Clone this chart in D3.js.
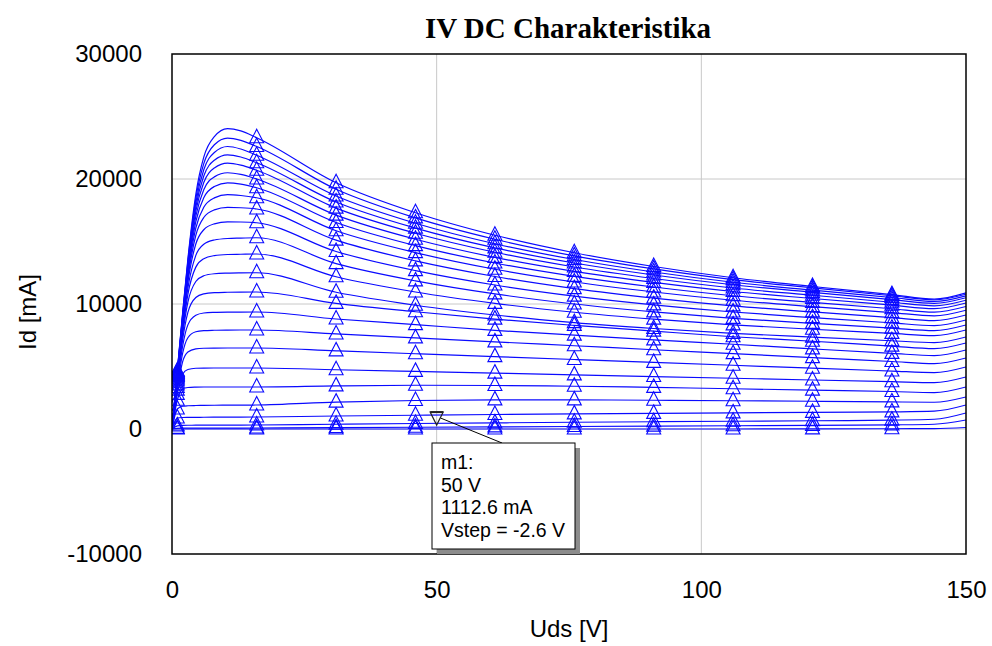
<!DOCTYPE html>
<html>
<head>
<meta charset="utf-8">
<script src="https://cdn.jsdelivr.net/npm/d3@7"></script>
<style>
  html, body { margin: 0; padding: 0; background: #ffffff; }
  svg { display: block; }
</style>
</head>
<body>
<svg id="chart" width="992" height="646"></svg>
<script>
// ---------------- DATA ----------------
const chartTitle = "IV DC Charakteristika";
const xTitle = "Uds [V]";
const yTitle = "Id [mA]";
const xTicks = [0, 50, 100, 150];
const yTicks = [-10000, 0, 10000, 20000, 30000];

// Uds sample points [V]
const udsValues = [0, 1, 2, 3, 4.5, 6, 8, 10.5, 13, 16, 31, 46, 61, 76, 91, 106, 121, 136, 144, 150];
// Uds points carrying the triangle markers
const markerUds = [1, 16, 31, 46, 61, 76, 91, 106, 121, 136];

// Id [mA] for each Vgs step (bottom curve first)
const id_c0  = [0, 0, 0, 0, 0, 0, 0, 0, 0, 0, 0, 0, 0, 0, 0, 0, 10, 20, 30, 120];
const id_c1  = [0, 50, 65, 70, 72, 74, 75, 77, 78, 80, 110, 140, 170, 200, 230, 260, 290, 330, 380, 720];
const id_c2  = [0, 250, 290, 300, 303, 306, 309, 312, 316, 320, 380, 440, 490, 540, 580, 620, 660, 710, 780, 1280];
const id_c3  = [0, 880, 920, 930, 935, 940, 945, 950, 955, 960, 1040, 1100, 1160, 1210, 1250, 1290, 1330, 1370, 1430, 1920];
const id_c4  = [0, 1600, 1820, 1860, 1880, 1890, 1900, 1905, 1912, 1920, 2150, 2280, 2330, 2330, 2300, 2260, 2220, 2170, 2140, 2560];
const id_c5  = [0, 2300, 3200, 3320, 3350, 3360, 3360, 3360, 3360, 3360, 3450, 3500, 3480, 3420, 3330, 3220, 3110, 3000, 2910, 3360];
const id_c6  = [0, 2770, 4380, 4760, 4860, 4875, 4880, 4880, 4880, 4880, 4740, 4610, 4470, 4330, 4195, 4060, 3920, 3785, 3710, 4160];
const id_c7  = [0, 3110, 5370, 6160, 6410, 6460, 6475, 6480, 6480, 6480, 6250, 6020, 5790, 5560, 5330, 5100, 4865, 4635, 4510, 4960];
const id_c8  = [0, 3320, 6040, 7300, 7780, 7870, 7900, 7915, 7920, 7920, 7605, 7290, 6970, 6660, 6340, 6030, 5710, 5400, 5230, 5680];
const id_c9  = [0, 3530, 6610, 8330, 9100, 9280, 9330, 9350, 9355, 9360, 8800, 8350, 7890, 7510, 7130, 6780, 6410, 6050, 5870, 6320];
const id_c10 = [0, 3740, 7130, 9330, 10520, 10810, 10910, 10940, 10955, 10960, 10050, 9380, 8790, 8290, 7830, 7380, 7020, 6630, 6430, 6880];
const id_c11 = [0, 3900, 7530, 10150, 11800, 12260, 12420, 12470, 12490, 12500, 10940, 9900, 9120, 8510, 8040, 7650, 7350, 7060, 6910, 7360];
const id_c12 = [0, 4000, 7800, 10770, 12950, 13620, 13870, 13960, 13980, 14000, 12180, 10960, 10050, 9340, 8790, 8330, 7980, 7650, 7470, 7920];
const id_c13 = [0, 4100, 8040, 11270, 13890, 14780, 15120, 15240, 15270, 15300, 13230, 11850, 10810, 10000, 9370, 8850, 8450, 8070, 7870, 8320];
const id_c14 = [0, 4200, 8270, 11740, 14800, 15940, 16410, 16570, 16560, 16500, 14200, 12670, 11520, 10630, 9930, 9360, 8910, 8490, 8270, 8720];
const id_c15 = [0, 4250, 8390, 12030, 15500, 16920, 17530, 17730, 17700, 17600, 15110, 13450, 12200, 11230, 10470, 9850, 9370, 8910, 8670, 9120];
const id_c16 = [0, 4300, 8510, 12280, 16080, 17740, 18490, 18750, 18680, 18500, 15860, 14110, 12780, 11760, 10960, 10300, 9790, 9310, 9050, 9500];
const id_c17 = [0, 4350, 8620, 12510, 16590, 18500, 19400, 19690, 19590, 19300, 16520, 14670, 13280, 12210, 11360, 10660, 10130, 9620, 9350, 9800];
const id_c18 = [0, 4400, 8730, 12710, 17020, 19140, 20170, 20500, 20370, 20000, 17110, 15180, 13730, 12610, 11730, 11000, 10440, 9910, 9630, 10080];
const id_c19 = [0, 4450, 8840, 12900, 17420, 19720, 20880, 21270, 21110, 20700, 17670, 15660, 14140, 12960, 12040, 11280, 10700, 10140, 9850, 10300];
const id_c20 = [0, 4500, 8940, 13080, 17770, 20240, 21500, 21930, 21760, 21300, 18160, 16070, 14490, 13280, 12320, 11540, 10930, 10350, 10050, 10500];
const id_c21 = [0, 4550, 9040, 13250, 18110, 20740, 22120, 22600, 22400, 21900, 18640, 16460, 14820, 13560, 12560, 11740, 11110, 10520, 10200, 10650];
const id_c22 = [0, 4600, 9150, 13430, 18440, 21230, 22740, 23270, 23090, 22600, 19180, 16890, 15180, 13850, 12810, 11950, 11290, 10660, 10330, 10780];
const id_c23 = [0, 4650, 9250, 13600, 18780, 21750, 23390, 24030, 23850, 23300, 19700, 17300, 15500, 14100, 13000, 12100, 11400, 10750, 10400, 10900];

const idCurves = [id_c0, id_c1, id_c2, id_c3, id_c4, id_c5, id_c6, id_c7, id_c8, id_c9, id_c10, id_c11,
                  id_c12, id_c13, id_c14, id_c15, id_c16, id_c17, id_c18, id_c19, id_c20, id_c21, id_c22, id_c23];

// Marker readout m1
const m1Name = "m1";
const m1Uds = 50;
const m1Id = 1112.6;
const m1Vstep = "-2.6";

// ---------------- DRAW ----------------
const svg = d3.select("#chart");
const plot = { left: 172, right: 966, top: 54, bottom: 554 };

const x = d3.scaleLinear().domain([0, 150]).range([plot.left, plot.right]);
const y = d3.scaleLinear().domain([-10000, 30000]).range([plot.bottom, plot.top]);

const sans = "'Liberation Sans', Arial, Helvetica, sans-serif";
const plain = d => String(d);

svg.append("defs").append("clipPath").attr("id", "plotClip")
  .append("rect")
  .attr("x", plot.left).attr("y", plot.top)
  .attr("width", plot.right - plot.left).attr("height", plot.bottom - plot.top);

// grid
const grid = svg.append("g");
grid.selectAll("line.vx").data(xTicks.filter(d => d > 0 && d < 150)).join("line")
  .attr("x1", d => x(d)).attr("x2", d => x(d))
  .attr("y1", plot.top).attr("y2", plot.bottom)
  .attr("stroke", "#c8c8c8").attr("stroke-width", 1);
grid.selectAll("line.hy").data(yTicks.filter(d => d > -10000 && d < 30000)).join("line")
  .attr("x1", plot.left).attr("x2", plot.right)
  .attr("y1", d => y(d)).attr("y2", d => y(d))
  .attr("stroke", "#c8c8c8").attr("stroke-width", 1);

// curves
const line = d3.line()
  .x((d, i) => x(udsValues[i]))
  .y(d => y(d))
  .curve(d3.curveMonotoneX);

const curvesG = svg.append("g").attr("clip-path", "url(#plotClip)");
curvesG.selectAll("path.curve").data(idCurves).join("path")
  .attr("class", "curve")
  .attr("d", d => line(d))
  .attr("fill", "none")
  .attr("stroke", "#0a0aff")
  .attr("stroke-width", 1.2);

// triangle markers
const markerPts = [];
idCurves.forEach(c => {
  markerUds.forEach(u => {
    const i = udsValues.indexOf(u);
    markerPts.push([u, c[i]]);
  });
});
const triUp = (cx, cy) => `M${cx},${cy - 8.5} L${cx + 7},${cy + 5} L${cx - 7},${cy + 5} Z`;
curvesG.selectAll("path.mk").data(markerPts).join("path")
  .attr("class", "mk")
  .attr("d", d => triUp(x(d[0]), y(d[1])))
  .attr("fill", "none")
  .attr("stroke", "#0a0aff")
  .attr("stroke-width", 1.1);

// frame
svg.append("rect")
  .attr("x", plot.left).attr("y", plot.top)
  .attr("width", plot.right - plot.left).attr("height", plot.bottom - plot.top)
  .attr("fill", "none").attr("stroke", "#000").attr("stroke-width", 1.5);

// axes labels
const yAxis = d3.axisLeft(y).tickValues(yTicks).tickSize(0).tickPadding(30).tickFormat(plain);
const yg = svg.append("g").attr("transform", `translate(${plot.left},0)`).call(yAxis);
yg.select(".domain").remove();
yg.selectAll("text").attr("font-family", sans).attr("font-size", 24).attr("fill", "#000");

const xAxis = d3.axisBottom(x).tickValues(xTicks).tickSize(0).tickPadding(27).tickFormat(plain);
const xg = svg.append("g").attr("transform", `translate(0,${plot.bottom})`).call(xAxis);
xg.select(".domain").remove();
xg.selectAll("text").attr("font-family", sans).attr("font-size", 24).attr("fill", "#000");

// titles
svg.append("text")
  .attr("x", 568).attr("y", 38)
  .attr("text-anchor", "middle")
  .attr("font-family", "'Liberation Serif', 'Times New Roman', serif")
  .attr("font-weight", "bold").attr("font-size", 29)
  .text(chartTitle);

svg.append("text")
  .attr("x", (plot.left + plot.right) / 2).attr("y", 637)
  .attr("text-anchor", "middle")
  .attr("font-family", sans).attr("font-size", 24)
  .text(xTitle);

svg.append("text")
  .attr("transform", `translate(36,${(plot.top + plot.bottom) / 2 + 8}) rotate(-90)`)
  .attr("text-anchor", "middle")
  .attr("font-family", sans).attr("font-size", 24)
  .text(yTitle);

// marker m1 + readout box
const mx = x(m1Uds), my = y(m1Id);
const boxX = 432, boxY = 443, boxW = 143, boxH = 106;
svg.append("line")
  .attr("x1", mx + 4).attr("y1", my + 3)
  .attr("x2", boxX + 70).attr("y2", boxY)
  .attr("stroke", "#000").attr("stroke-width", 1);
svg.append("path")
  .attr("d", `M${mx - 6.5},${my - 3} L${mx + 6.5},${my - 3} L${mx},${my + 10} Z`)
  .attr("fill", "none").attr("stroke", "#222").attr("stroke-width", 1.2);
svg.append("line")
  .attr("x1", mx - 6.5).attr("x2", mx + 6.5).attr("y1", my - 3).attr("y2", my - 3)
  .attr("stroke", "#222").attr("stroke-width", 2);

svg.append("rect")
  .attr("x", boxX + 5).attr("y", boxY + 5).attr("width", boxW).attr("height", boxH)
  .attr("fill", "#8c8c8c");
svg.append("rect")
  .attr("x", boxX).attr("y", boxY).attr("width", boxW).attr("height", boxH)
  .attr("fill", "#fff").attr("stroke", "#000").attr("stroke-width", 1);

const readout = [`${m1Name}:`, `${m1Uds} V`, `${m1Id} mA`, `Vstep = ${m1Vstep} V`];
svg.append("g").selectAll("text").data(readout).join("text")
  .attr("x", boxX + 9)
  .attr("y", (d, i) => boxY + 26 + i * 22.6)
  .attr("font-family", sans).attr("font-size", 19.5).attr("fill", "#000")
  .text(d => d);
</script>
</body>
</html>
